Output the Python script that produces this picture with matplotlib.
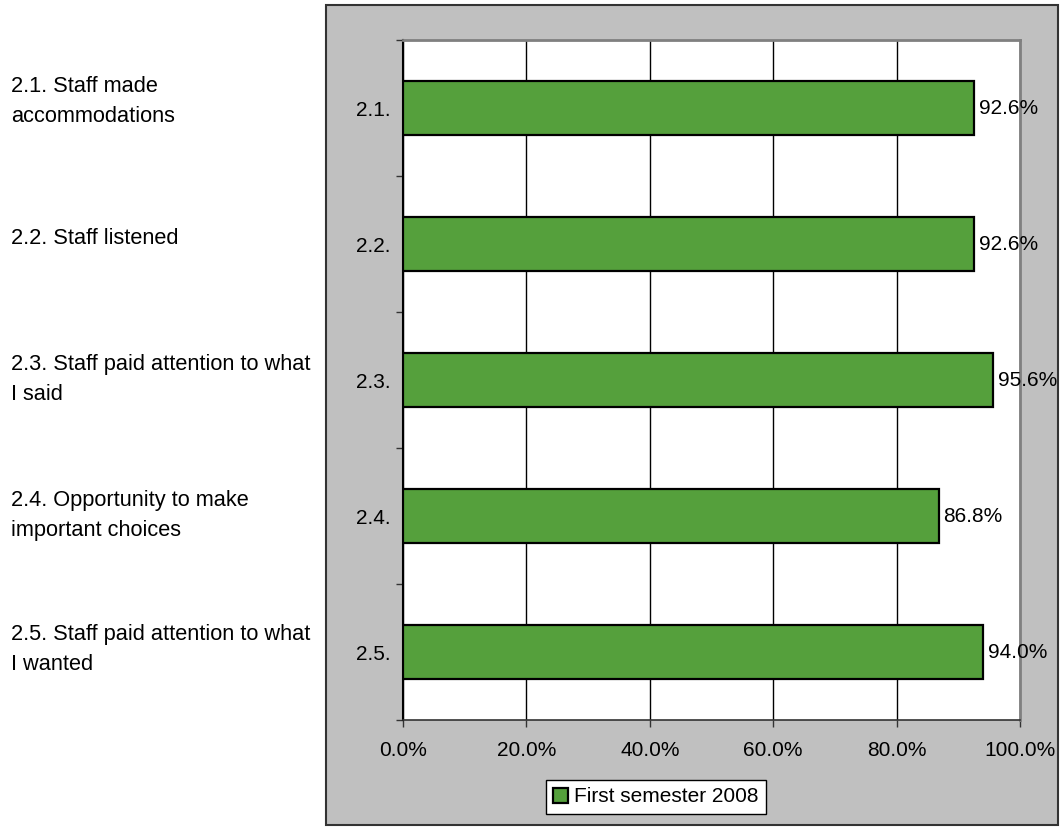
import matplotlib
matplotlib.use("Agg")
import matplotlib.pyplot as plt
from matplotlib.patches import Rectangle
from matplotlib.ticker import FuncFormatter, FixedLocator, NullFormatter

# data
codes = ["2.1.", "2.2.", "2.3.", "2.4.", "2.5."]
values = [92.6, 92.6, 95.6, 86.8, 94.0]
series_name = "First semester 2008"
descriptions = [
    "2.1. Staff made\naccommodations",
    "2.2. Staff listened",
    "2.3. Staff paid attention to what\nI said",
    "2.4. Opportunity to make\nimportant choices",
    "2.5. Staff paid attention to what\nI wanted",
]
desc_baselines = [122, 244, 400, 536, 670]  # px from top, last line

W, H = 1060, 827
FS = 15
plt.rcParams["font.family"] = ["Liberation Sans", "DejaVu Sans"]

fig = plt.figure(figsize=(W / 100, H / 100), dpi=100)
fig.patch.set_facecolor("white")

# grey chart area box
fig.patches.append(Rectangle((326 / W, 1 - 825 / H), (1058 - 326) / W, (825 - 5) / H,
                             transform=fig.transFigure, facecolor="#C0C0C0",
                             edgecolor="#333333", linewidth=1.5, zorder=-1))

ax = fig.add_axes([403 / W, 1 - 720 / H, 617 / W, 680 / H], zorder=1)
ax.set_facecolor("white")

y = list(range(len(codes)))
bars = ax.barh(y, values, height=0.39, color="#55A03C", edgecolor="black",
               linewidth=1.6, label=series_name, zorder=3)

for yi, v in zip(y, values):
    ax.text(v + 0.8, yi, f"{v:.1f}%", va="center", ha="left", fontsize=FS, zorder=4)

ax.set_xlim(0, 100)
ax.set_ylim(len(codes) - 0.5, -0.5)
ax.set_xticks([0, 20, 40, 60, 80, 100])
ax.xaxis.set_major_formatter(FuncFormatter(lambda v, p: f"{v:.1f}%"))
ax.set_yticks(y)
ax.set_yticklabels(codes)
ax.yaxis.set_minor_locator(FixedLocator([i - 0.5 for i in range(len(codes) + 1)]))
ax.yaxis.set_minor_formatter(NullFormatter())
ax.tick_params(axis="y", which="major", length=0, pad=9, labelsize=FS)
ax.tick_params(axis="y", which="minor", length=5, width=1, color="#333333")
ax.tick_params(axis="x", which="major", length=5, width=1, color="#333333", pad=10, labelsize=FS)

ax.set_axisbelow(True)
ax.xaxis.grid(True, color="black", linewidth=1)
ax.yaxis.grid(False)

ax.spines["left"].set_color("black")
ax.spines["left"].set_linewidth(1.5)
ax.spines["bottom"].set_color("#333333")
ax.spines["bottom"].set_linewidth(1.2)
for s in ["top", "right"]:
    ax.spines[s].set_color("#808080")
    ax.spines[s].set_linewidth(2)

leg = fig.legend(handles=[bars], labels=[series_name], loc="center",
                 bbox_to_anchor=(656 / W, 1 - 797 / H), fontsize=FS,
                 fancybox=False, frameon=True, edgecolor="black", framealpha=1,
                 handlelength=0.7, handleheight=0.7, handletextpad=0.3,
                 borderpad=0.35, borderaxespad=0)
leg.get_frame().set_linewidth(1)
leg.set_zorder(5)

# descriptions on the left (narrow face not available, so a smaller Liberation Sans)
for text, base in zip(descriptions, desc_baselines):
    fig.text(11 / W, 1 - base / H, text, ha="left", va="baseline",
             linespacing=1.55, fontsize=15.7, family=["Liberation Sans", "DejaVu Sans"])

fig.savefig("out.png", dpi=100)
